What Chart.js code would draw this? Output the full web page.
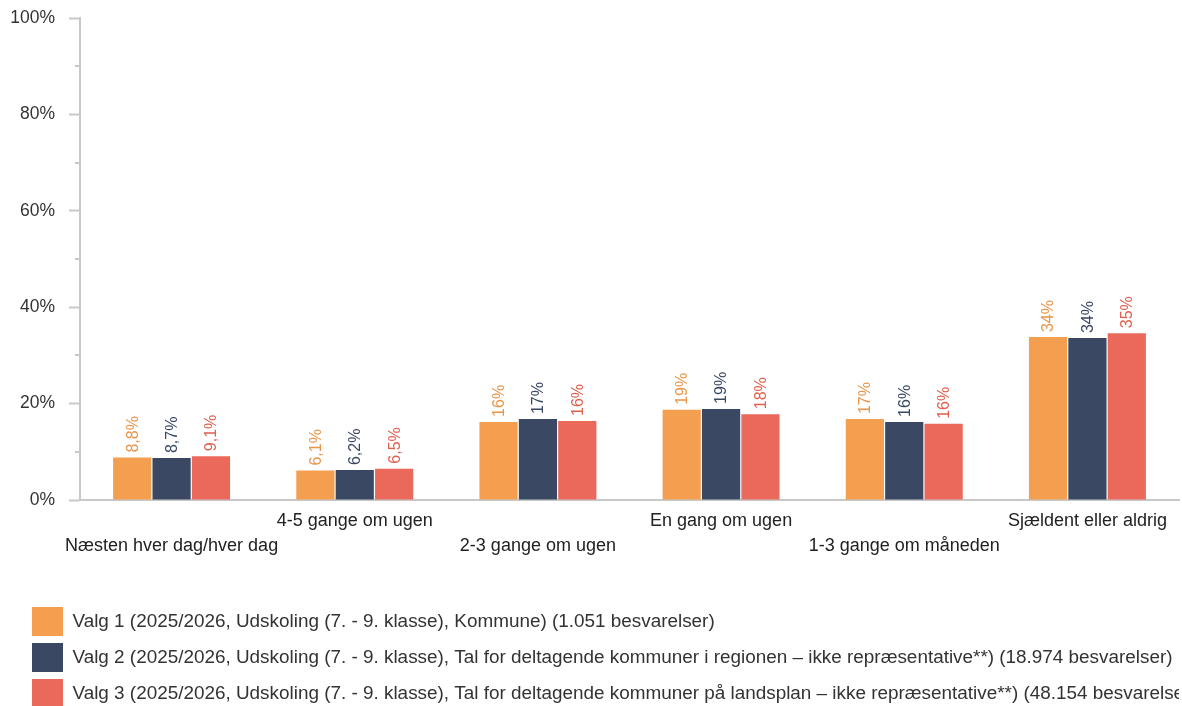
<!DOCTYPE html>
<html>
<head>
<meta charset="utf-8">
<script src="https://cdn.jsdelivr.net/npm/chart.js@4"></script>
<style>
  html, body { margin: 0; padding: 0; background: #fff; overflow: hidden; }
  #wrap { width: 1182px; height: 718px; position: relative; }
</style>
</head>
<body>
<div id="wrap"><canvas id="chart"></canvas></div>
<script>
// --- Data ---
const categories = ['Næsten hver dag/hver dag', '4-5 gange om ugen', '2-3 gange om ugen', 'En gang om ugen', '1-3 gange om måneden', 'Sjældent eller aldrig'];
const valg1 = [8.8, 6.1, 16.2, 18.7, 16.8, 33.8];
const valg2 = [8.7, 6.2, 16.8, 18.9, 16.2, 33.6];
const valg3 = [9.1, 6.5, 16.4, 17.8, 15.8, 34.6];
const seriesNames = [
    'Valg 1 (2025/2026, Udskoling (7. - 9. klasse), Kommune) (1.051 besvarelser)',
    'Valg 2 (2025/2026, Udskoling (7. - 9. klasse), Tal for deltagende kommuner i regionen – ikke repræsentative**) (18.974 besvarelser)',
    'Valg 3 (2025/2026, Udskoling (7. - 9. klasse), Tal for deltagende kommuner på landsplan – ikke repræsentative**) (48.154 besvarelser)'
];
const minorTicks = [10, 30, 50, 70, 90];

const barColors = ['#f49f50', '#3a4864', '#eb695b'];
const labelColors = ['#e8954a', '#3a4864', '#e0604f'];
const axisColor = '#c8c8c8';
const fontFamily = "Arial, 'Liberation Sans', sans-serif";

// --- Helpers ---
function formatPct(v) {
    return v < 10 ? v.toFixed(1).replace('.', ',') + '%' : Math.round(v) + '%';
}

// Rotated value labels above each bar
const barLabels = {
    id: 'barLabels',
    afterDatasetsDraw(chart) {
        const ctx = chart.ctx;
        chart.data.datasets.forEach((ds, i) => {
            const meta = chart.getDatasetMeta(i);
            meta.data.forEach((bar, j) => {
                ctx.save();
                ctx.translate(bar.x, bar.y - 5);
                ctx.rotate(-Math.PI / 2);
                ctx.font = '16px ' + fontFamily;
                ctx.fillStyle = labelColors[i];
                ctx.textAlign = 'left';
                ctx.textBaseline = 'middle';
                ctx.fillText(formatPct(ds.data[j]), 0, 1);
                ctx.restore();
            });
        });
    }
};

// Short minor ticks on the y axis
const minorTickMarks = {
    id: 'minorTickMarks',
    afterDraw(chart) {
        const ctx = chart.ctx;
        const y = chart.scales.y;
        const x0 = chart.chartArea.left;
        ctx.save();
        ctx.strokeStyle = axisColor;
        ctx.lineWidth = 2;
        minorTicks.forEach(v => {
            const py = Math.round(y.getPixelForValue(v));
            ctx.beginPath();
            ctx.moveTo(x0 - 5, py);
            ctx.lineTo(x0, py);
            ctx.stroke();
        });
        ctx.restore();
    }
};

// Push the legend block in from the left edge
const legendIndent = {
    id: 'legendIndent',
    beforeDraw(chart) {
        if (chart.legend) chart.legend.left = 25;
    }
};

const datasets = [valg1, valg2, valg3].map((data, i) => ({
    label: seriesNames[i],
    data: data,
    backgroundColor: barColors[i],
    categoryPercentage: 0.645,
    barPercentage: 0.97
}));

new Chart(document.getElementById('chart'), {
    type: 'bar',
    data: { labels: categories, datasets: datasets },
    plugins: [barLabels, minorTickMarks, legendIndent],
    options: {
        responsive: true,
        maintainAspectRatio: false,
        animation: false,
        layout: { padding: { left: 0, top: 18, right: 3, bottom: 0 } },
        plugins: {
            tooltip: { enabled: false },
            legend: {
                position: 'bottom',
                align: 'start',
                labels: {
                    boxWidth: 31,
                    boxHeight: 29,
                    padding: 7,
                    color: '#333',
                    font: { size: 18.9, family: fontFamily }
                }
            }
        },
        scales: {
            x: {
                grid: { display: false, drawTicks: false },
                border: { color: axisColor, width: 2 },
                ticks: {
                    autoSkip: false,
                    maxRotation: 0,
                    minRotation: 0,
                    padding: 9,
                    color: '#222',
                    font: { size: 18, family: fontFamily, lineHeight: 1.38 },
                    callback: (val, i) => i % 2 === 0 ? ['', categories[i]] : categories[i]
                },
                afterFit(scale) { scale.height = 100; }
            },
            y: {
                min: 0,
                max: 100,
                grid: { drawOnChartArea: false, tickLength: 11, tickColor: axisColor, tickWidth: 2 },
                border: { color: axisColor, width: 2 },
                ticks: {
                    stepSize: 20,
                    padding: 14,
                    color: '#333',
                    font: { size: 17.5, family: fontFamily },
                    callback: v => v + '%'
                },
                afterFit(scale) {
                    scale.width = 80;
                    scale.paddingTop = 0;
                    scale.paddingBottom = 0;
                }
            }
        }
    }
});
</script>
</body>
</html>
